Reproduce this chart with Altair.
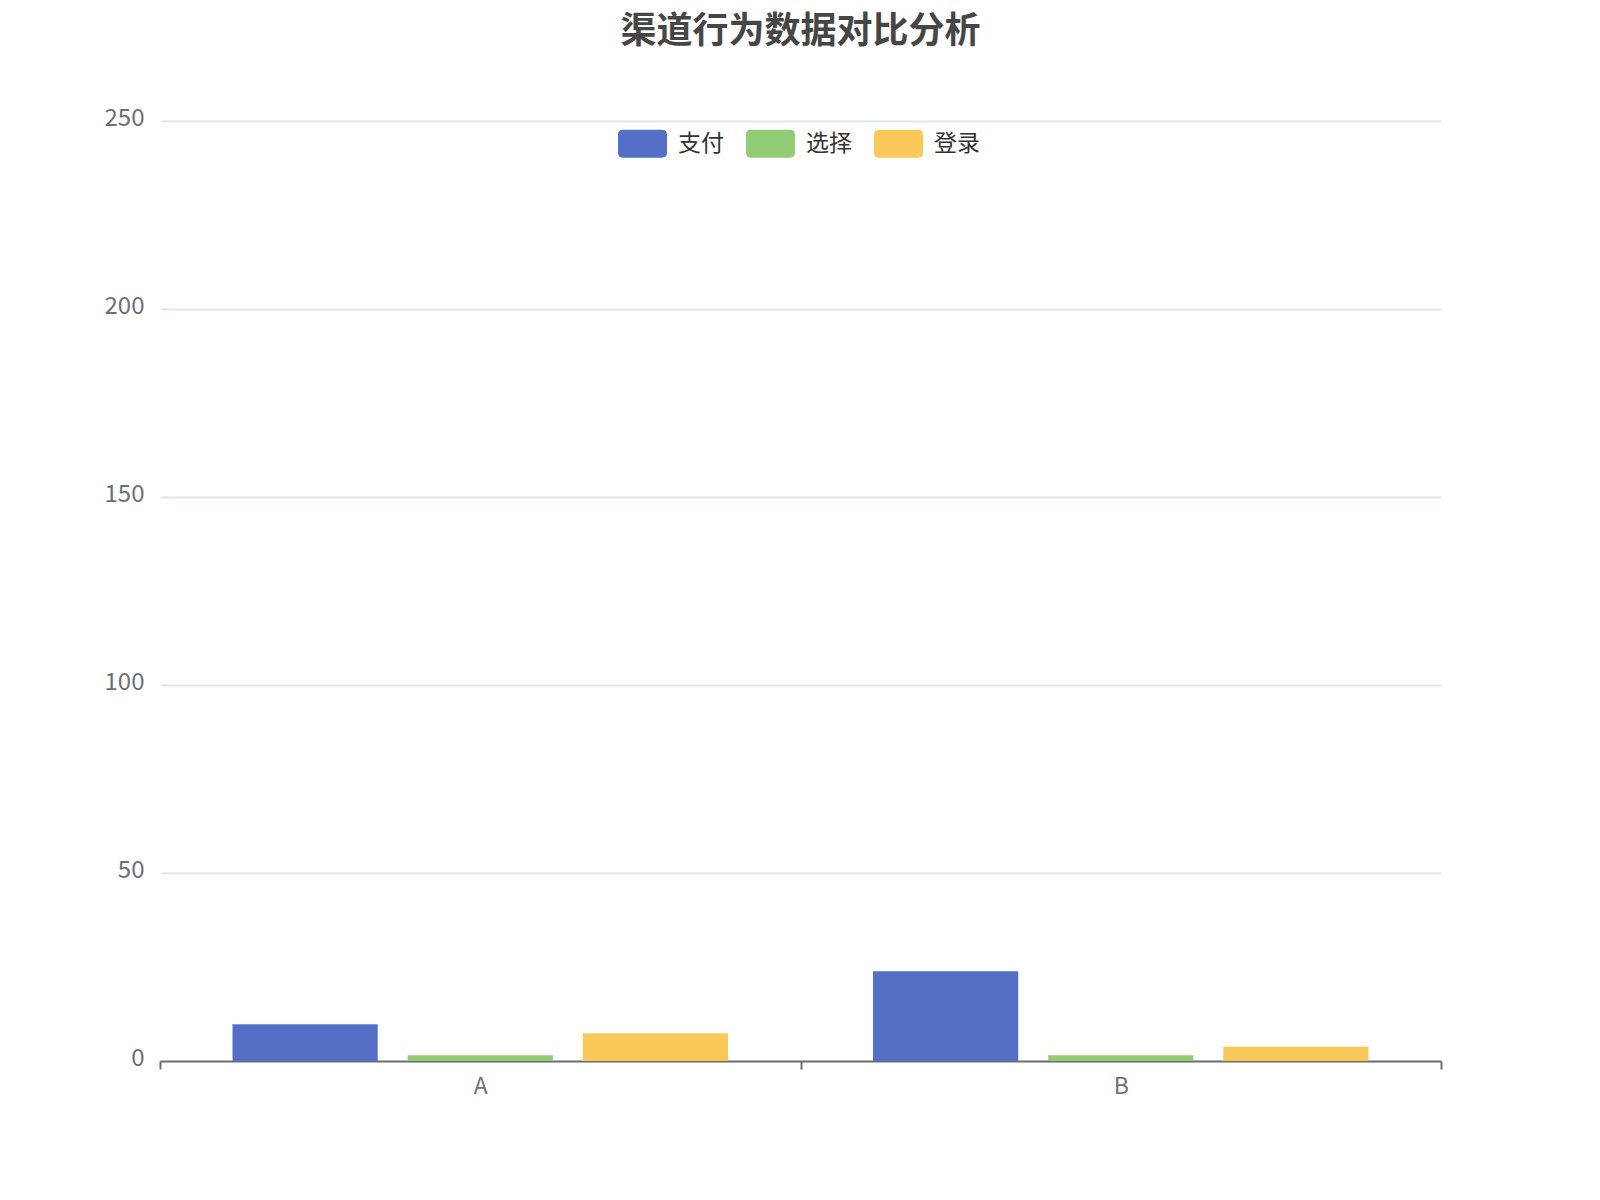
import altair as alt
import pandas as pd

categories = ["A", "B"]
series = ["支付", "选择", "登录"]
colors = ["#5470C6", "#91CC75", "#FAC858"]
values_A = [9.8, 1.5, 7.4]
values_B = [23.9, 1.5, 3.8]
y_ticks = [0, 50, 100, 150, 200, 250]
title_text = "渠道行为数据对比分析"

rows = []
for cat, vals in zip(categories, [values_A, values_B]):
    for s, v in zip(series, vals):
        rows.append({"category": cat, "series": s, "value": v})
df = pd.DataFrame(rows)

FONT = "Noto Sans CJK SC"
rr_path = ("M-0.8,-0.571 L0.8,-0.571 Q1,-0.571 1,-0.371 L1,0.371 Q1,0.571 0.8,0.571 "
           "L-0.8,0.571 Q-1,0.571 -1,0.371 L-1,-0.371 Q-1,-0.571 -0.8,-0.571 Z")

chart = alt.Chart(df).mark_bar().encode(
    x=alt.X("category:N", sort=categories,
            scale=alt.Scale(paddingInner=0, paddingOuter=0),
            axis=alt.Axis(title=None, labelAngle=0, tickBand="extent",
                          domainColor="#6E7079", domainWidth=2,
                          tickColor="#6E7079", tickWidth=2, tickSize=8,
                          labelColor="#6E7079", labelFontSize=23, labelFont=FONT,
                          labelPadding=6, grid=False)),
    xOffset=alt.XOffset("series:N", sort=series,
                        scale=alt.Scale(paddingInner=0.171, paddingOuter=0.414)),
    y=alt.Y("value:Q", scale=alt.Scale(domain=[0, 250], nice=False),
            axis=alt.Axis(title=None, values=y_ticks, domain=False, ticks=False,
                          grid=True, gridColor="#E0E6F1", gridWidth=2,
                          labelColor="#6E7079", labelFontSize=24, labelFont=FONT,
                          labelPadding=16, labelOffset=-3)),
    color=alt.Color("series:N", sort=series,
                    scale=alt.Scale(domain=series, range=colors),
                    legend=alt.Legend(title=None, orient="none", direction="horizontal",
                                      legendX=458, legendY=-2,
                                      symbolType=rr_path, symbolSize=2401,
                                      symbolStrokeWidth=0, symbolOpacity=1,
                                      labelFontSize=23, labelFont=FONT, labelColor="#333333",
                                      labelOffset=11, columnPadding=22, padding=0)),
).properties(
    width=1281,
    height=940,
    title=alt.TitleParams(text=title_text, fontSize=36, fontWeight="bold",
                          color="#464646", font=FONT, anchor="middle",
                          frame="group", baseline="bottom", offset=19),
    autosize=alt.AutoSizeParams(type="none"),
    padding={"left": 152, "top": 113, "right": 150, "bottom": 130},
).configure_view(stroke=None)

chart.save("out.html", embed_options={"renderer": "svg", "actions": False})
